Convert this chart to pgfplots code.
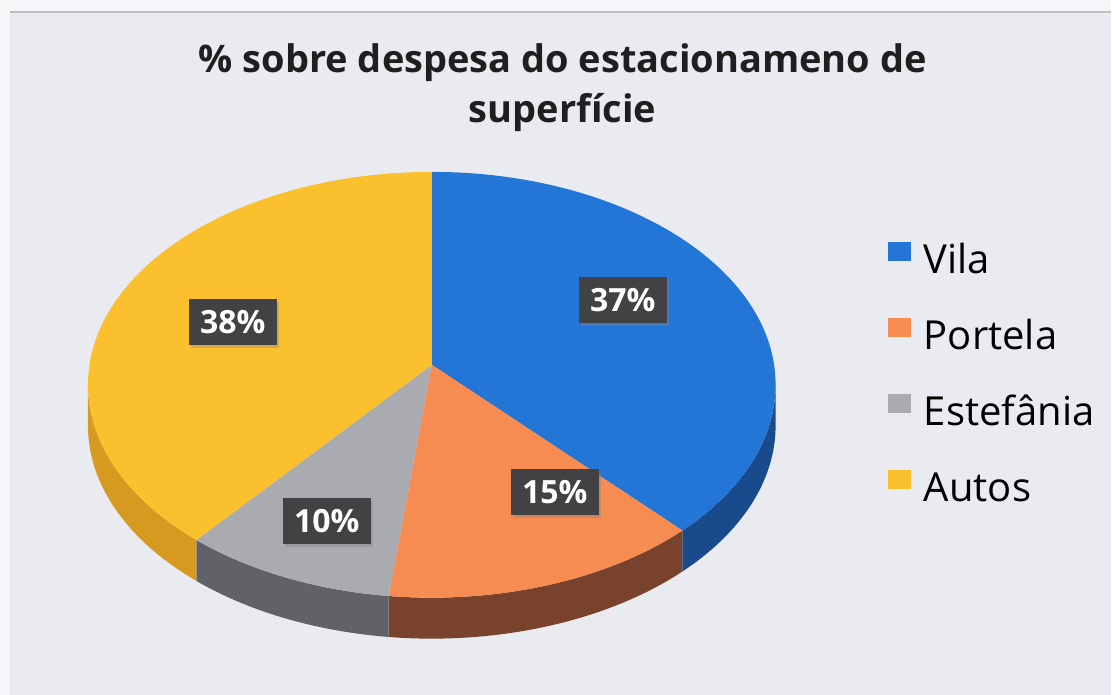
\documentclass[border=0pt]{standalone}
\usepackage{fontspec}
\setmainfont{Open Sans}
\usepackage{pgfplots}
\usepackage{pgfplotstable}
\pgfplotsset{compat=1.18}
\usetikzlibrary{shadows}

\definecolor{paper}{RGB}{246,246,248}
\definecolor{bg}{RGB}{233,235,240}
\definecolor{vila}{RGB}{36,118,214}
\definecolor{vilaside}{RGB}{24,74,140}
\definecolor{portela}{RGB}{246,140,82}
\definecolor{portelaside}{RGB}{120,66,44}
\definecolor{estef}{RGB}{170,171,177}
\definecolor{estefside}{RGB}{96,98,104}
\definecolor{autos}{RGB}{250,192,46}
\definecolor{autosside}{RGB}{214,154,32}
\definecolor{lblbox}{RGB}{66,66,68}

% value, label centre (pixel x, pixel y from top)
\pgfplotstableread{
label value lx ly
Vila 37 623 300
Portela 15 555 492
Estefania 10 327 521
Autos 38 233 322
}\piedata

\pgfplotstablegetelem{0}{value}\of\piedata\edef\vA{\pgfplotsretval}
\pgfplotstablegetelem{1}{value}\of\piedata\edef\vB{\pgfplotsretval}
\pgfplotstablegetelem{2}{value}\of\piedata\edef\vC{\pgfplotsretval}
\pgfplotstablegetelem{3}{value}\of\piedata\edef\vD{\pgfplotsretval}
\pgfplotstablegetelem{0}{lx}\of\piedata\edef\xA{\pgfplotsretval}
\pgfplotstablegetelem{1}{lx}\of\piedata\edef\xB{\pgfplotsretval}
\pgfplotstablegetelem{2}{lx}\of\piedata\edef\xC{\pgfplotsretval}
\pgfplotstablegetelem{3}{lx}\of\piedata\edef\xD{\pgfplotsretval}
\pgfplotstablegetelem{0}{ly}\of\piedata\edef\yA{\pgfplotsretval}
\pgfplotstablegetelem{1}{ly}\of\piedata\edef\yB{\pgfplotsretval}
\pgfplotstablegetelem{2}{ly}\of\piedata\edef\yC{\pgfplotsretval}
\pgfplotstablegetelem{3}{ly}\of\piedata\edef\yD{\pgfplotsretval}

\pgfmathsetmacro\aA{90}
\pgfmathsetmacro\aB{\aA-3.6*\vA}
\pgfmathsetmacro\aC{\aB-3.6*\vB}
\pgfmathsetmacro\aD{\aC-3.6*\vC}
\pgfmathsetmacro\aE{\aD-3.6*\vD}

\newcommand\sideband[3]{%
  \pgfmathsetmacro\ss{min(#1,0)}%
  \pgfmathsetmacro\ee{max(#2,-180)}%
  \ifdim\ss pt>\ee pt
    \fill[#3] ([shift={(\ss:172pt and 106.5pt)}]axis cs:432,310)
      arc[start angle=\ss,end angle=\ee,x radius=172pt,y radius=106.5pt]
      -- ++(0,-20.5pt)
      arc[start angle=\ee,end angle=\ss,x radius=172pt,y radius=106.5pt]
      -- cycle;
  \fi}
\newcommand\topslice[3]{%
  \fill[#3] (axis cs:432,330) -- ([shift={(#1:172pt and 106.5pt)}]axis cs:432,310)
     arc[start angle=#1,end angle=#2,x radius=172pt,y radius=106.5pt] -- cycle;}
\newcommand\pielabel[3]{%
  \node[fill=lblbox,text=white,font=\fontsize{16}{18}\selectfont\bfseries,
        minimum width=44pt,minimum height=23pt,inner sep=1pt,
        drop shadow={opacity=0.35,shadow xshift=1.2pt,shadow yshift=-1.5pt}]
        at (axis cs:#1,695-#2) {#3\%};}

\begin{document}
\begin{tikzpicture}
\begin{axis}[
  x=0.5pt, y=0.5pt,
  xmin=0, xmax=1112, ymin=0, ymax=695,
  hide axis, clip=false,
  legend style={at={(axis cs:882,457)}, anchor=north west, draw=none, fill=none,
     font=\fontsize{20}{22}\selectfont, row sep=18.5pt,
     nodes={inner sep=0pt, text height=13pt, text depth=4pt},
     /tikz/column 1/.style={column sep=6.5pt}},
  legend cell align=left,
  legend image code/.code={\fill[#1,draw=none] (0pt,1.5pt) rectangle (11.5pt,11pt);},
]
\addplot[draw=none, forget plot] coordinates {(0,0) (1112,695)};
\pgfplotsextra{
  \fill[paper] (axis cs:0,0) rectangle (axis cs:1112,695);
  \fill[bg] (axis cs:10,0) rectangle (axis cs:1112,683);
  \draw[black!25, line width=0.6pt] (axis cs:10,683) -- (axis cs:1112,683);
}
\pgfplotsextra{\sideband{\aA}{\aB}{vilaside}}
\pgfplotsextra{\sideband{\aB}{\aC}{portelaside}}
\pgfplotsextra{\sideband{\aC}{\aD}{estefside}}
\pgfplotsextra{\sideband{\aD}{\aE}{autosside}}
\pgfplotsextra{\topslice{\aA}{\aB}{vila}}
\pgfplotsextra{\topslice{\aB}{\aC}{portela}}
\pgfplotsextra{\topslice{\aC}{\aD}{estef}}
\pgfplotsextra{\topslice{\aD}{\aE}{autos}}
\pgfplotsextra{\pielabel{\xA}{\yA}{\vA}}
\pgfplotsextra{\pielabel{\xB}{\yB}{\vB}}
\pgfplotsextra{\pielabel{\xC}{\yC}{\vC}}
\pgfplotsextra{\pielabel{\xD}{\yD}{\vD}}
\pgfplotsextra{
  \node[font=\fontsize{19}{25}\selectfont\bfseries, align=center, text=black!88]
    at (axis cs:563,607) {\% sobre despesa do estacionameno de\\superfície};
}
\addlegendimage{fill=vila}\addlegendentry{Vila}
\addlegendimage{fill=portela}\addlegendentry{Portela}
\addlegendimage{fill=estef}\addlegendentry{Estefânia}
\addlegendimage{fill=autos}\addlegendentry{Autos}
\end{axis}
\end{tikzpicture}
\end{document}
